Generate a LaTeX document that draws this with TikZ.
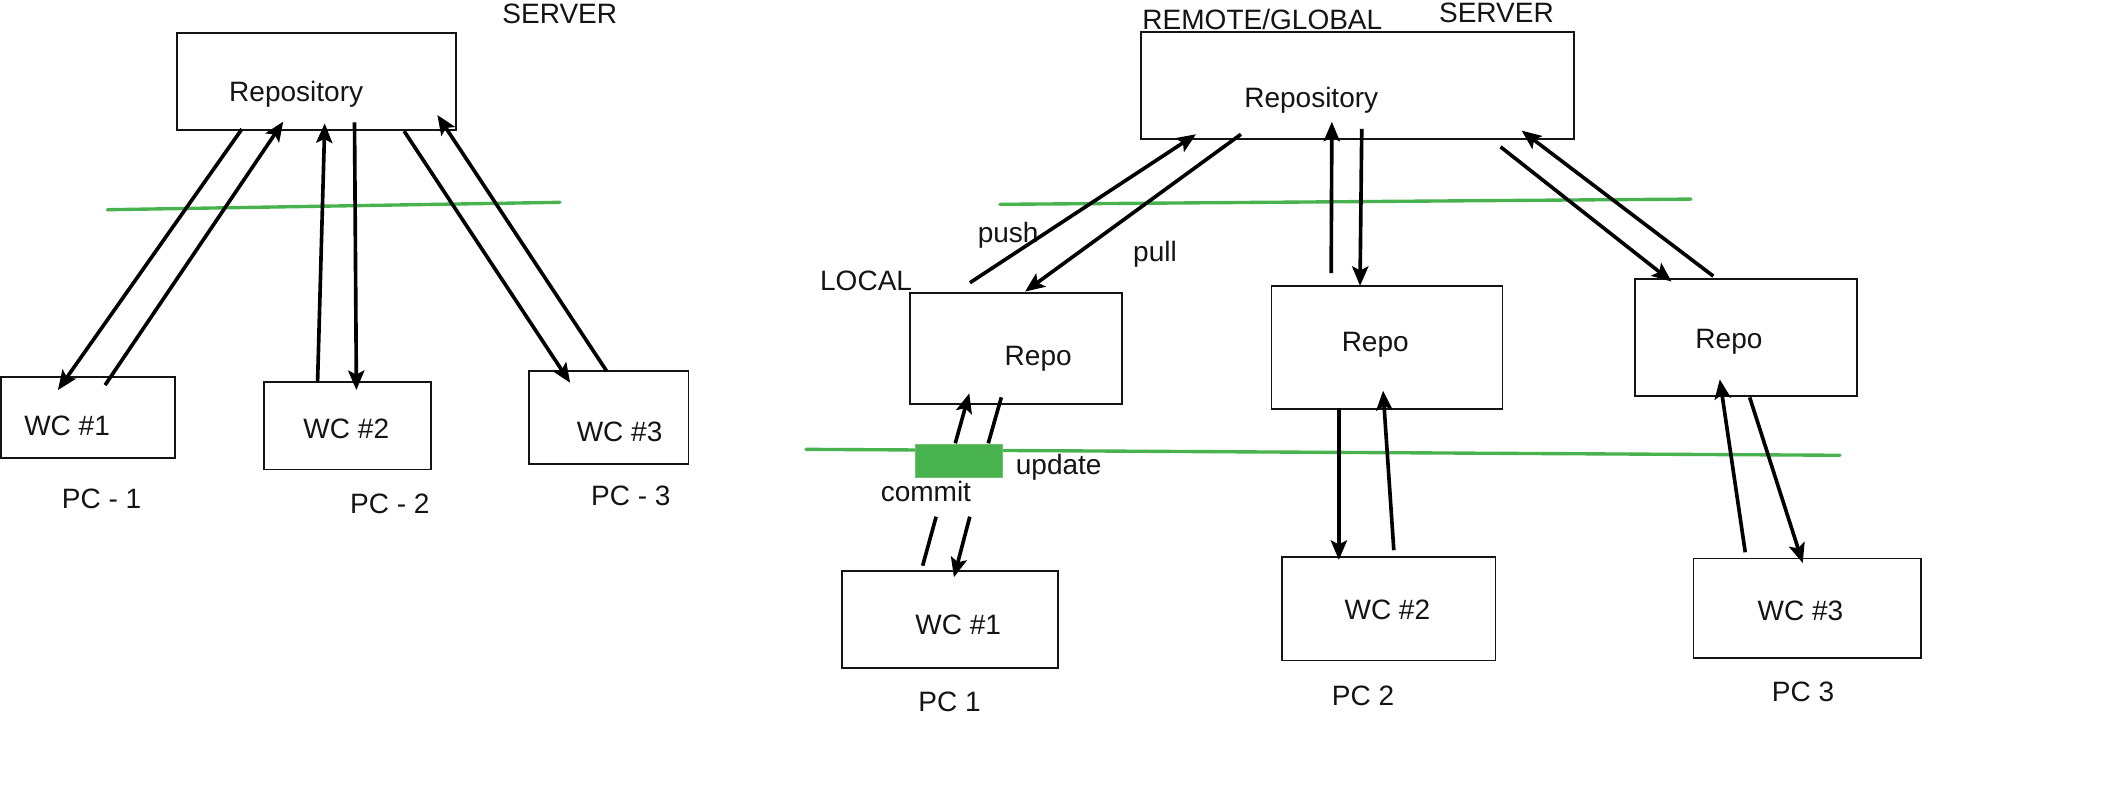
\documentclass[tikz,border=0pt]{standalone}
\usepackage{fontspec}
\setmainfont{Liberation Sans}
\usetikzlibrary{arrows.meta}
\definecolor{gline}{RGB}{72,178,78}
\definecolor{ink}{RGB}{20,20,20}
\tikzset{
  box/.style={draw=ink, line width=1.3pt, inner sep=0pt, outer sep=0pt},
  lbl/.style={anchor=base, inner sep=0pt, text=ink, font=\fontsize{20.8}{24}\selectfont},
  lblw/.style={anchor=base west, inner sep=0pt, text=ink, font=\fontsize{20.8}{24}\selectfont},
  arr/.style={draw=black, line width=2.7pt, -{Stealth[length=14.5pt,width=12pt,inset=3pt]}},
  plain/.style={draw=black, line width=2.7pt},
  sep/.style={draw=gline, line width=2.5pt, line cap=round}
}
\begin{document}
\begin{tikzpicture}[x=1pt,y=-1pt]
\useasboundingbox (0,0) rectangle (1568,587);
% ================= LEFT DIAGRAM =================
\node[box, minimum width=207pt, minimum height=71.5pt] (repoA) at (234.8,60.5) {};
\node[box, minimum width=129.3pt, minimum height=60.6pt] (wcA1) at (65.4,310) {};
\node[box, minimum width=124pt, minimum height=65.1pt] (wcA2) at (258.1,315.95) {};
\node[box, minimum width=118.7pt, minimum height=69.1pt] (wcA3) at (451.85,310.05) {};

\node[lbl] (serverA) at (415.6,17.3) {SERVER};
\node[lbl] (repoAt) at (219.9,75.5) {Repository};
\node[lbl] (wcA1t) at (49.8,323) {WC \#1};
\node[lbl] (wcA2t) at (257.1,325.5) {WC \#2};
\node[lbl] (wcA3t) at (460,328) {WC \#3};
\node[lbl] (pcA1) at (75.4,377.5) {PC - 1};
\node[lbl] (pcA2) at (289.4,381.2) {PC - 2};
\node[lbl] (pcA3) at (468.3,375.5) {PC - 3};

\coordinate (gA1) at (79.7,155.7);
\coordinate (gA2) at (415.7,150.2);
\draw[sep] (gA1) -- (gA2);

\coordinate (a1s) at (179.6,95.8);  \coordinate (a1e) at (43,289.6);
\coordinate (a2s) at (78,285.9);    \coordinate (a2e) at (210.3,90.3);
\coordinate (a3s) at (235.8,282.9); \coordinate (a3e) at (241.1,91.6);
\coordinate (a4s) at (263.2,90.8);  \coordinate (a4e) at (264.6,289.6);
\coordinate (a5s) at (300,97.3);    \coordinate (a5e) at (423.3,284.2);
\coordinate (a6s) at (450.4,275.5); \coordinate (a6e) at (324.7,85.4);
\draw[arr] (a1s) -- (a1e);
\draw[arr] (a2s) -- (a2e);
\draw[arr] (a3s) -- (a3e);
\draw[arr] (a4s) -- (a4e);
\draw[arr] (a5s) -- (a5e);
\draw[arr] (a6s) -- (a6e);

% ================= RIGHT DIAGRAM =================
\node[box, minimum width=321.7pt, minimum height=79.2pt] (repoB) at (1007.75,63.5) {};
\node[box, minimum width=157.4pt, minimum height=82.4pt] (r1) at (754.3,258.5) {};
\node[box, minimum width=171.5pt, minimum height=91.2pt] (r2) at (1029.75,258.2) {};
\node[box, minimum width=165pt, minimum height=87pt] (r3) at (1296.2,250.5) {};
\node[box, minimum width=160.1pt, minimum height=72.5pt] (w1) at (705.15,459.95) {};
\node[box, minimum width=158.4pt, minimum height=76.7pt] (w2) at (1031,452.05) {};
\node[box, minimum width=168.9pt, minimum height=74pt] (w3) at (1341.75,451.7) {};

\coordinate (gB1) at (742.4,151.7);
\coordinate (gB2) at (1255.4,147.8);
\draw[sep] (gB1) -- (gB2);
\coordinate (gC1) at (598.4,333.6);
\coordinate (gC2) at (1366,338);
\draw[sep] (gC1) -- (gC2);
\node[fill=gline, draw=gline!80!white, line width=0.8pt, inner sep=0pt, minimum width=64.3pt, minimum height=24.7pt] (gbar) at (711.95,342.25) {};

\node[lblw] (remote) at (848,22.2) {REMOTE/GLOBAL};
\node[lbl] (serverB) at (1111,16.4) {SERVER};
\node[lbl] (repoBt) at (973.5,80) {Repository};
\node[lbl] (push) at (748.5,180.2) {push};
\node[lbl] (pull) at (857.5,194.3) {pull};
\node[lblw] (local) at (608.7,215.8) {LOCAL};
\node[lbl] (r1t) at (770.8,271) {Repo};
\node[lbl] (r2t) at (1021,261) {Repo};
\node[lbl] (r3t) at (1283.6,258.4) {Repo};
\node[lblw] (update) at (754,352.1) {update};
\node[lbl] (commit) at (687.4,372.4) {commit};
\node[lbl] (w1t) at (711.4,471.4) {WC \#1};
\node[lbl] (w2t) at (1030,459.7) {WC \#2};
\node[lbl] (w3t) at (1336.7,460.7) {WC \#3};
\node[lbl] (pc1) at (705,528.3) {PC 1};
\node[lbl] (pc2) at (1012,524) {PC 2};
\node[lbl] (pc3) at (1338.6,521) {PC 3};

\coordinate (b1s) at (720.1,209.9);  \coordinate (b1e) at (887.9,99.7);
\coordinate (b2s) at (921.3,99.7);   \coordinate (b2e) at (761,216.5);
\coordinate (b3s) at (988.3,202.7);  \coordinate (b3e) at (988.8,90.4);
\coordinate (b4s) at (1011,95.6);    \coordinate (b4e) at (1009.7,212.3);
\coordinate (b5s) at (1114,109);     \coordinate (b5e) at (1241,209);
\coordinate (b6s) at (1272,205);     \coordinate (b6e) at (1129.7,97);
\draw[arr] (b1s) -- (b1e);
\draw[arr] (b2s) -- (b2e);
\draw[arr] (b3s) -- (b3e);
\draw[arr] (b4s) -- (b4e);
\draw[arr] (b5s) -- (b5e);
\draw[arr] (b6s) -- (b6e);

\coordinate (c1s) at (709.2,329.1);  \coordinate (c1e) at (719.6,292);
\coordinate (c2s) at (733.7,329.1);  \coordinate (c2e) at (743.4,295);
\coordinate (c3s) at (685,420);      \coordinate (c3e) at (695,383.6);
\coordinate (c4s) at (720,383.6);    \coordinate (c4e) at (708.2,428.6);
\draw[arr] (c1s) -- (c1e);
\draw[plain] (c2s) -- (c2e);
\draw[plain] (c3s) -- (c3e);
\draw[arr] (c4s) -- (c4e);

\coordinate (d1s) at (994,302.7);    \coordinate (d1e) at (994,415.7);
\coordinate (d2s) at (1034.8,408.5); \coordinate (d2e) at (1026.8,290);
\coordinate (d3s) at (1295.7,410);   \coordinate (d3e) at (1276.8,281.6);
\coordinate (d4s) at (1299,295);     \coordinate (d4e) at (1338.4,418);
\draw[arr] (d1s) -- (d1e);
\draw[arr] (d2s) -- (d2e);
\draw[arr] (d3s) -- (d3e);
\draw[arr] (d4s) -- (d4e);
\end{tikzpicture}
\end{document}
